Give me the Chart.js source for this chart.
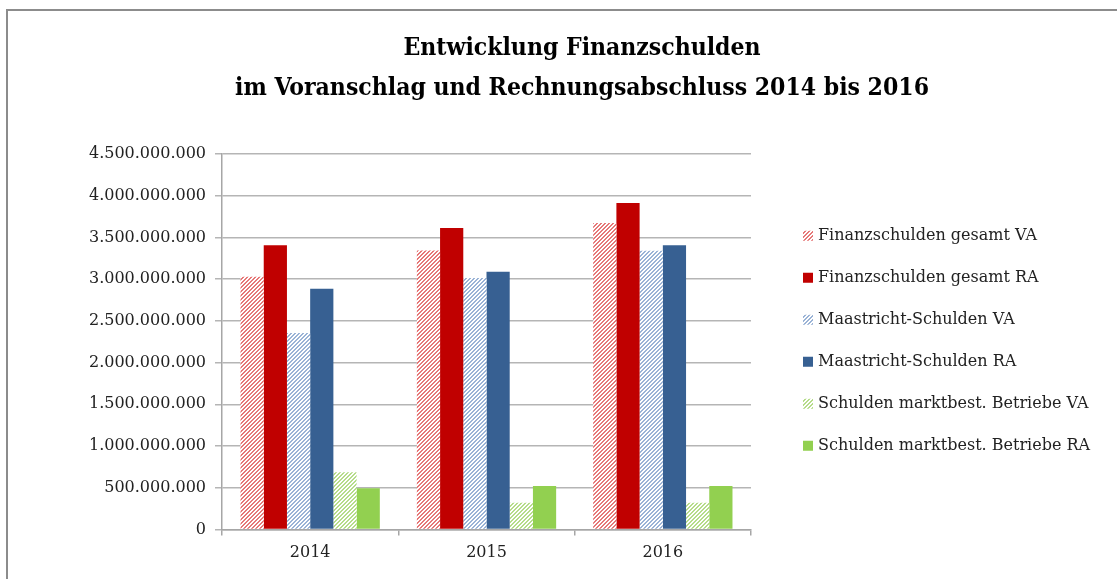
<!DOCTYPE html>
<html lang="de">
<head>
<meta charset="utf-8">
<title>Entwicklung Finanzschulden</title>
<script src="https://cdn.jsdelivr.net/npm/chart.js@4.4.1/dist/chart.umd.min.js"></script>
<style>
    html, body { margin: 0; padding: 0; background: #fff; overflow: hidden; }
    #wrap { position: relative; width: 1117px; height: 579px; overflow: hidden; }
    #frame { position: absolute; left: 6px; top: 9px; width: 2000px; height: 2000px;
             border-left: 2px solid #8c8c8c; border-top: 2px solid #8c8c8c; }
    #chart { position: absolute; left: 0; top: 0; }
</style>
</head>
<body>
<div id="wrap">
    <div id="frame"></div>
    <canvas id="chart" width="1117" height="579"></canvas>
</div>
<script>
// Werte (Euro)
const years = ['2014', '2015', '2016'];
const titleLines = ['Entwicklung Finanzschulden', 'im Voranschlag und Rechnungsabschluss 2014 bis 2016'];
const seriesNames = [
    'Finanzschulden gesamt VA', 'Finanzschulden gesamt RA',
    'Maastricht-Schulden VA', 'Maastricht-Schulden RA',
    'Schulden marktbest. Betriebe VA', 'Schulden marktbest. Betriebe RA'
];
const finanzVA = [3030000000, 3345000000, 3674000000];
const finanzRA = [3405000000, 3614000000, 3914000000];
const maastrichtVA = [2354000000, 3014000000, 3342000000];
const maastrichtRA = [2886000000, 3090000000, 3405000000];
const betriebeVA = [686000000, 322000000, 322000000];
const betriebeRA = [494000000, 522000000, 520000000];
const yTicks = [0, 500000000, 1000000000, 1500000000, 2000000000, 2500000000, 3000000000, 3500000000, 4000000000, 4500000000];

const fmt = v => String(v).replace(/\B(?=(\d{3})+(?!\d))/g, '.');

// diagonale Schraffur fuer die VA-Reihen
function hatch(color) {
    const c = document.createElement('canvas');
    c.width = 4; c.height = 4;
    const g = c.getContext('2d');
    g.fillStyle = '#fff';
    g.fillRect(0, 0, 4, 4);
    g.fillStyle = color;
    for (let x = 0; x < 4; x++) {
        for (let y = 0; y < 4; y++) {
            if ((x + y) % 4 === 0 || (x + y) % 4 === 3) g.fillRect(x, y, 1, 1);
        }
    }
    return g.createPattern(c, 'repeat');
}

const colors = [
    hatch('#e67878'), '#c00000',
    hatch('#9ab3d6'), '#376092',
    hatch('#b6dc8a'), '#92d050'
];
const values = [finanzVA, finanzRA, maastrichtVA, maastrichtRA, betriebeVA, betriebeRA];

const serif = 'DejaVu Serif, Liberation Serif, serif';

// Legende rechts neben dem Diagramm
const sideLegend = {
    id: 'sideLegend',
    afterDraw(chart) {
        const ctx = chart.ctx;
        const area = chart.chartArea;
        const x = area.right + 52;
        const step = 42;
        const sets = chart.data.datasets;
        const y0 = (area.top + area.bottom) / 2 - step * (sets.length - 1) / 2 - 1;
        ctx.save();
        ctx.font = '16px ' + serif;
        ctx.textBaseline = 'middle';
        ctx.fillStyle = '#222';
        sets.forEach((ds, i) => {
            const y = y0 + i * step;
            ctx.fillStyle = ds.backgroundColor;
            ctx.fillRect(x, y - 5, 10, 10);
            ctx.fillStyle = '#222';
            ctx.fillText(ds.label, x + 15, y);
        });
        ctx.restore();
    }
};

new Chart(document.getElementById('chart'), {
    type: 'bar',
    data: {
        labels: years,
        datasets: values.map((d, i) => ({
            label: seriesNames[i],
            data: d,
            backgroundColor: colors[i],
            borderWidth: 0,
            categoryPercentage: 0.79,
            barPercentage: 1.0,
            yAxisID: 'y'
        }))
    },
    plugins: [sideLegend],
    options: {
        responsive: false,
        animation: false,
        devicePixelRatio: 1,
        layout: { padding: { left: 69, right: 22, top: 0, bottom: 0 } },
        plugins: {
            title: {
                display: true,
                text: titleLines,
                color: '#000',
                font: { family: 'DejaVu Serif Condensed, DejaVu Serif, serif', size: 24.5, weight: 'bold', lineHeight: 40 / 24.5 },
                padding: { top: 29, bottom: 45 }
            },
            legend: { display: false },
            tooltip: { enabled: false }
        },
        scales: {
            x: {
                grid: { drawOnChartArea: false, drawTicks: true, tickLength: 6, color: '#a6a6a6', lineWidth: 1.5 },
                border: { color: '#a6a6a6', width: 1.5 },
                ticks: { color: '#222', font: { family: serif, size: 16 }, padding: 8 },
                afterFit: s => { s.height = 49.5; }
            },
            y: {
                min: 0,
                max: 4500000000,
                afterBuildTicks: s => { s.ticks = yTicks.map(v => ({ value: v })); },
                grid: { color: '#b5b5b5', lineWidth: 1.5, tickLength: 7 },
                border: { color: '#a6a6a6', width: 1.5 },
                ticks: { color: '#222', font: { family: serif, size: 16 }, padding: 9, callback: v => fmt(v) },
                afterFit: s => { s.width = 153; }
            },
            gap: {
                type: 'linear',
                position: 'right',
                display: true,
                grid: { display: false },
                border: { display: false },
                ticks: { display: false },
                afterFit: s => { s.width = 344; }
            }
        }
    }
});
</script>
</body>
</html>
